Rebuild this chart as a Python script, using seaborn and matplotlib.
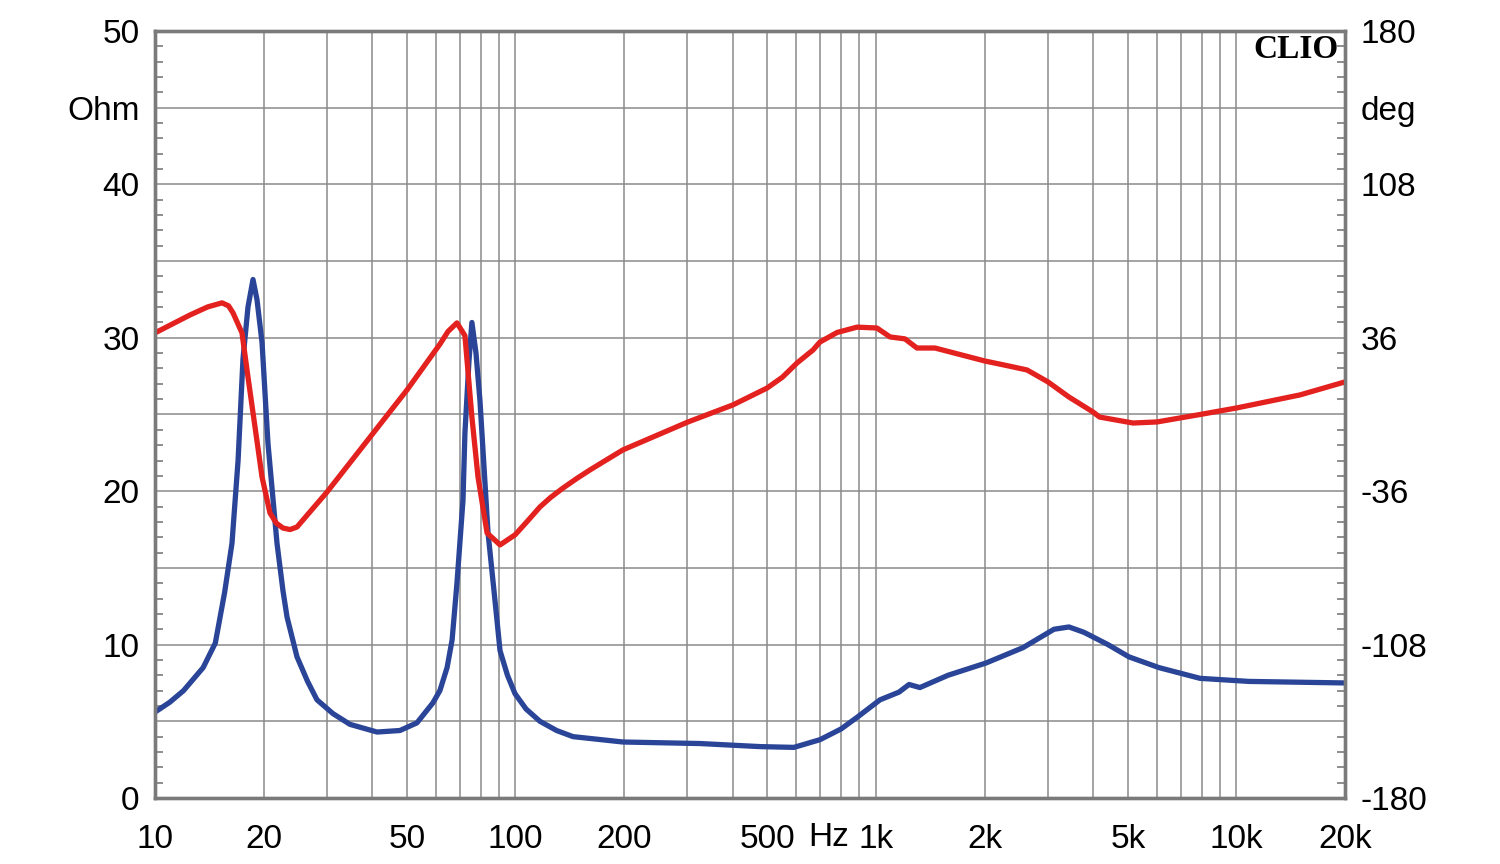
import matplotlib
matplotlib.use("Agg")
import matplotlib.pyplot as plt
import matplotlib.transforms as mtransforms
from matplotlib.ticker import FixedLocator, MultipleLocator
import seaborn as sns

# impedance magnitude
imp_freq = [10, 11.0, 12.0, 13.6, 14.7, 15.6, 16.35, 17.0, 17.54, 18.11, 18.7, 19.18,
            19.81, 20.58, 21.8, 22.65, 23.24, 24.77, 26.5, 28.14, 31.17, 34.75, 41.3,
            47.8, 53.3, 59.0, 61.7, 64.6, 66.7, 68.8, 71.5, 72.4, 74.3, 75.7,
            77.7, 79.7, 83.9, 87.7, 90.6, 95.0, 99.7, 107, 116.9, 130, 144.4, 198.7,
            325, 477, 592, 699, 800, 891, 1026, 1158, 1235, 1324, 1584, 2019, 2557,
            3117, 3430, 3776, 4400, 5033, 6095, 7925, 10833, 20000]
imp_ohm = [5.6, 6.25, 7.0, 8.5, 10.1, 13.4, 16.6, 22.0, 28.6, 32.0, 33.8, 32.5,
           29.7, 23.1, 16.6, 13.5, 11.8, 9.2, 7.6, 6.4, 5.5, 4.8, 4.3,
           4.4, 4.9, 6.2, 7.0, 8.5, 10.3, 14.0, 19.4, 23.8, 28.5, 31.0,
           29.0, 25.9, 17.3, 12.9, 9.6, 8.0, 6.8, 5.8, 5.0, 4.4, 4.0, 3.65,
           3.55, 3.35, 3.3, 3.8, 4.5, 5.3, 6.4, 6.9, 7.4, 7.2, 8.0, 8.8, 9.8,
           11.0, 11.15, 10.8, 10.0, 9.2, 8.5, 7.8, 7.6, 7.5]

# impedance phase
phase_freq = [10, 12.5, 14.0, 15.34, 16.0, 16.46, 17.43, 18.11, 18.94, 19.81, 20.84,
              21.7, 22.65, 23.7, 24.77, 26.5, 30.0, 50.0, 61.7, 65.0, 68.8, 72.4,
              75.7, 78.7, 83.4, 90.6, 99.7, 108, 116.9, 125, 135.5, 148, 161, 178,
              198.7, 301, 401, 498.5, 550, 604, 669, 699, 780, 886, 1006, 1094, 1203,
              1299, 1458, 2006, 2300, 2624, 3000, 3430, 3998, 4170, 5163, 6018, 7925,
              10033, 15007, 20000]
phase_deg = [38.3, 46.7, 50.5, 52.4, 51.0, 47.7, 38.3, 17.6, -5.8, -29.3, -46.2,
             -51.0, -53.3, -54.0, -52.8, -47.0, -36.4, 11.5, 33.0, 39.0, 43.0, 37.0,
             -1.2, -29.3, -55.6, -61.2, -56.5, -50.0, -43.4, -39.0, -34.5, -30.0, -26.0, -21.5,
             -16.6, -3.5, 4.5, 12.4, 17.5, 24.2, 30.3, 34.0, 38.5, 41.0, 40.6, 36.4, 35.5,
             31.2, 31.2, 25.1, 23.0, 20.9, 15.3, 8.2, 1.2, -1.2, -4.0, -3.5, 0.0,
             3.1, 9.2, 15.3]

x_ticks = [10, 20, 50, 100, 200, 500, 1000, 2000, 5000, 10000, 20000]
x_tick_labels = ["10", "20", "50", "100", "200", "500", "1k", "2k", "5k", "10k", "20k"]
ohm_ticks = [0, 5, 10, 15, 20, 25, 30, 35, 40, 45, 50]
ohm_labels = ["0", "", "10", "", "20", "", "30", "", "40", "Ohm", "50"]
deg_ticks = [-180, -144, -108, -72, -36, 0, 36, 72, 108, 144, 180]
deg_labels = ["-180", "", "-108", "", "-36", "", "36", "", "108", "deg", "180"]

sns.set_style("white")
plt.rcParams["font.family"] = ["Liberation Sans", "DejaVu Sans"]
plt.rcParams["text.color"] = "black"
plt.rcParams["xtick.color"] = "black"
plt.rcParams["ytick.color"] = "black"

GRID = "#8a8a8a"
SPINE = "#7a7a7a"
BLUE = "#2a4597"
RED = "#e3211f"
FS = 24

fig = plt.figure(figsize=(15, 8.64), dpi=100)
ax = fig.add_axes([155 / 1500, 66 / 864, 1190 / 1500, 767 / 864])
ax2 = ax.twinx()

sns.lineplot(x=imp_freq, y=imp_ohm, ax=ax, color=BLUE, lw=3.8, sort=False,
             solid_joinstyle="round", solid_capstyle="round")
sns.lineplot(x=phase_freq, y=phase_deg, ax=ax2, color=RED, lw=3.8, sort=False,
             solid_joinstyle="round", solid_capstyle="round")

ax.set_xscale("log")
ax.set_xlim(10, 20000)
ax.set_ylim(0, 50)
ax2.set_ylim(-180, 180)

# x grid on every 1..9 step of each decade
grid_x = [m * 10 ** e for e in range(1, 5) for m in range(1, 10) if m * 10 ** e <= 20000]
ax.xaxis.set_major_locator(FixedLocator(grid_x))
ax.set_xticklabels([x_tick_labels[x_ticks.index(g)] if g in x_ticks else "" for g in grid_x])
ax.xaxis.set_minor_locator(FixedLocator([]))
ax.tick_params(axis="x", length=0, pad=19, labelsize=FS, labelcolor="black")

ax.set_yticks(ohm_ticks)
ax.set_yticklabels(ohm_labels)
ax.yaxis.set_minor_locator(MultipleLocator(1))
ax.tick_params(axis="y", which="major", length=0, pad=11, labelsize=FS, labelcolor="black")
ax.tick_params(axis="y", which="minor", direction="in", length=6, width=1.2, color=SPINE)

ax2.set_yticks(deg_ticks)
ax2.set_yticklabels(deg_labels)
ax2.yaxis.set_minor_locator(MultipleLocator(7.2))
ax2.tick_params(axis="y", which="major", length=0, pad=11, labelsize=FS, labelcolor="black")
ax2.tick_params(axis="y", which="minor", direction="in", length=6, width=1.2, color=SPINE)

ax.grid(True, which="major", color=GRID, lw=1.1)
ax.set_axisbelow(True)
for a in (ax, ax2):
    for s in a.spines.values():
        s.set_color(SPINE)
        s.set_linewidth(2.4)
    a.set_xlabel("")
    a.set_ylabel("")

trans = mtransforms.blended_transform_factory(ax.transData, ax.transAxes)
ax.text(740, -40 / 767, "Hz", transform=trans, ha="center", va="center", fontsize=FS)

ax2.text(0.995, 0.996, "CLIO", transform=ax.transAxes, ha="right", va="top",
         fontsize=24, fontweight="bold", family="Liberation Serif")

fig.savefig("out.png", dpi=100)
